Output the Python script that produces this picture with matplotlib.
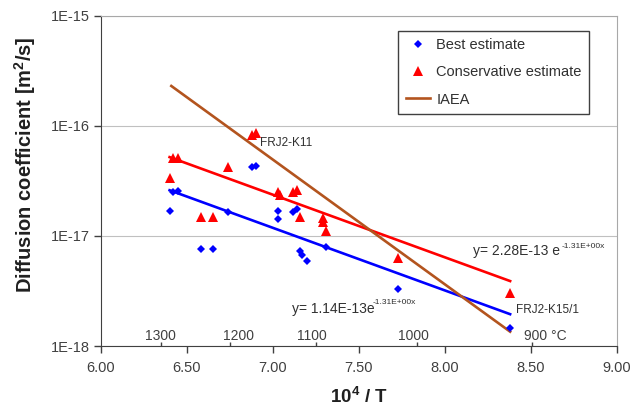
import matplotlib
matplotlib.use("Agg")
import matplotlib.pyplot as plt
import numpy as np

# data (x = 10^4/T, D in m2/s)
best_x = [6.40, 6.42, 6.45, 6.58, 6.65, 6.74, 6.88, 6.90, 7.03, 7.03,
          7.12, 7.14, 7.16, 7.17, 7.20, 7.31, 7.73, 8.38]
best_d = [1.69e-17, 2.53e-17, 2.56e-17, 7.6e-18, 7.6e-18, 1.65e-17, 4.26e-17, 4.35e-17, 1.69e-17, 1.42e-17,
          1.66e-17, 1.75e-17, 7.35e-18, 6.7e-18, 5.96e-18, 7.9e-18, 3.32e-18, 1.47e-18]

cons_x = [6.40, 6.42, 6.45, 6.58, 6.65, 6.74, 6.88, 6.90, 7.03, 7.04,
          7.12, 7.14, 7.16, 7.29, 7.29, 7.31, 7.73, 8.38]
cons_d = [3.35e-17, 5.08e-17, 5.08e-17, 1.5e-17, 1.5e-17, 4.26e-17, 8.28e-17, 8.59e-17, 2.53e-17, 2.36e-17,
          2.53e-17, 2.62e-17, 1.48e-17, 1.45e-17, 1.35e-17, 1.11e-17, 6.35e-18, 3.05e-18]

# trend lines y = a*exp(b*x)
best_fit = (1.14e-13, -1.31)
cons_fit = (2.28e-13, -1.31)
fit_range = [6.40, 8.38]

iaea_x = [6.41, 8.38]
iaea_d = [2.31e-16, 1.35e-18]

temp_labels = ["1300", "1200", "1100", "1000", "900 \u00b0C"]
temp_ticks = [6.35, 6.75, 7.25, 7.84, 8.51]
temp_text_x = [6.345, 6.80, 7.23, 7.82, 8.585]

plt.rcParams['font.family'] = ['Liberation Sans', 'DejaVu Sans']
plt.rcParams['mathtext.fontset'] = 'custom'
plt.rcParams['mathtext.rm'] = 'Liberation Sans'
plt.rcParams['mathtext.bf'] = 'Liberation Sans:bold'

fig = plt.figure(figsize=(6.42, 4.09), dpi=100)
ax = fig.add_axes([0.157, 0.154, 0.8037, 0.807])

ax.plot(best_x, best_d, 'D', color='#0000ff', ms=3.8, mew=0, label='Best estimate', zorder=4)
ax.plot(cons_x, cons_d, '^', color='#ff0000', ms=6.5, mew=0, label='Conservative estimate', zorder=4)

xf = np.array(fit_range)
ax.plot(xf, best_fit[0] * np.exp(best_fit[1] * xf), color='#0000ff', lw=1.9, zorder=3)
ax.plot(xf, cons_fit[0] * np.exp(cons_fit[1] * xf), color='#ff0000', lw=1.9, zorder=3)
ax.plot(iaea_x, iaea_d, color='#b3541e', lw=1.9, label='IAEA', zorder=3)

ax.set_yscale('log')
ax.set_xlim(6.0, 9.0)
ax.set_ylim(1e-18, 1e-15)
ax.set_xticks(np.arange(6.0, 9.01, 0.5))
ax.set_xticklabels(["%.2f" % v for v in np.arange(6.0, 9.01, 0.5)])
ax.set_yticks([1e-18, 1e-17, 1e-16, 1e-15])
ax.set_yticklabels(["1E-18", "1E-17", "1E-16", "1E-15"])
ax.yaxis.set_minor_locator(matplotlib.ticker.NullLocator())
ax.tick_params(axis='both', labelsize=10.5, colors='#404040', length=5, width=1, direction='out')
ax.tick_params(axis='x', pad=6)
ax.tick_params(axis='y', pad=3)
ax.yaxis.grid(True, color='#c0c0c0', lw=0.8)
ax.set_axisbelow(True)

for s in ['top', 'right']:
    ax.spines[s].set_color('#a8a8a8')
for s in ['left', 'bottom']:
    ax.spines[s].set_color('#404040')

ax.set_xlabel(r"10$^\mathbf{4}$ / T", fontsize=13.5, fontweight='bold', color='#202020', labelpad=8)
ax.set_ylabel(r"Diffusion coefficient [m$^\mathbf{2}$/s]", fontsize=14.5, fontweight='bold',
              color='#202020')
ax.yaxis.set_label_coords(-0.122, 0.55)

# temperature scale inside the plot
ax.vlines(temp_ticks, 0, 0.012, transform=ax.get_xaxis_transform(), color='#404040', lw=1)
for lab, xv in zip(temp_labels, temp_text_x):
    ax.text(xv, 0.029, lab, transform=ax.get_xaxis_transform(), ha='center', va='center',
            fontsize=10, color='#404040')

ax.text(6.926, 6.58e-17, "FRJ2-K11", fontsize=8.5, color='#303030', va='baseline')
ax.text(8.415, 2.01e-18, "FRJ2-K15/1", fontsize=8.5, color='#303030', va='baseline')
ax.text(8.166, 6.71e-18, "y= 2.28E-13 e", fontsize=10, color='#303030', va='baseline')
ax.text(8.68, 7.72e-18, "-1.31E+00x", fontsize=6, color='#303030', va='baseline')
ax.text(7.11, 1.98e-18, "y= 1.14E-13e", fontsize=10, color='#303030', va='baseline')
ax.text(7.583, 2.39e-18, "-1.31E+00x", fontsize=6, color='#303030', va='baseline')

leg = ax.legend(loc='upper right', bbox_to_anchor=(0.946, 0.9545), borderaxespad=0, fontsize=10.5,
                fancybox=False, edgecolor='#404040', framealpha=1, handlelength=1.7,
                labelspacing=0.9, borderpad=0.5, handletextpad=0.4)
leg.get_frame().set_linewidth(1.0)
for t in leg.get_texts():
    t.set_color('#303030')

fig.savefig("out.png", dpi=100)
